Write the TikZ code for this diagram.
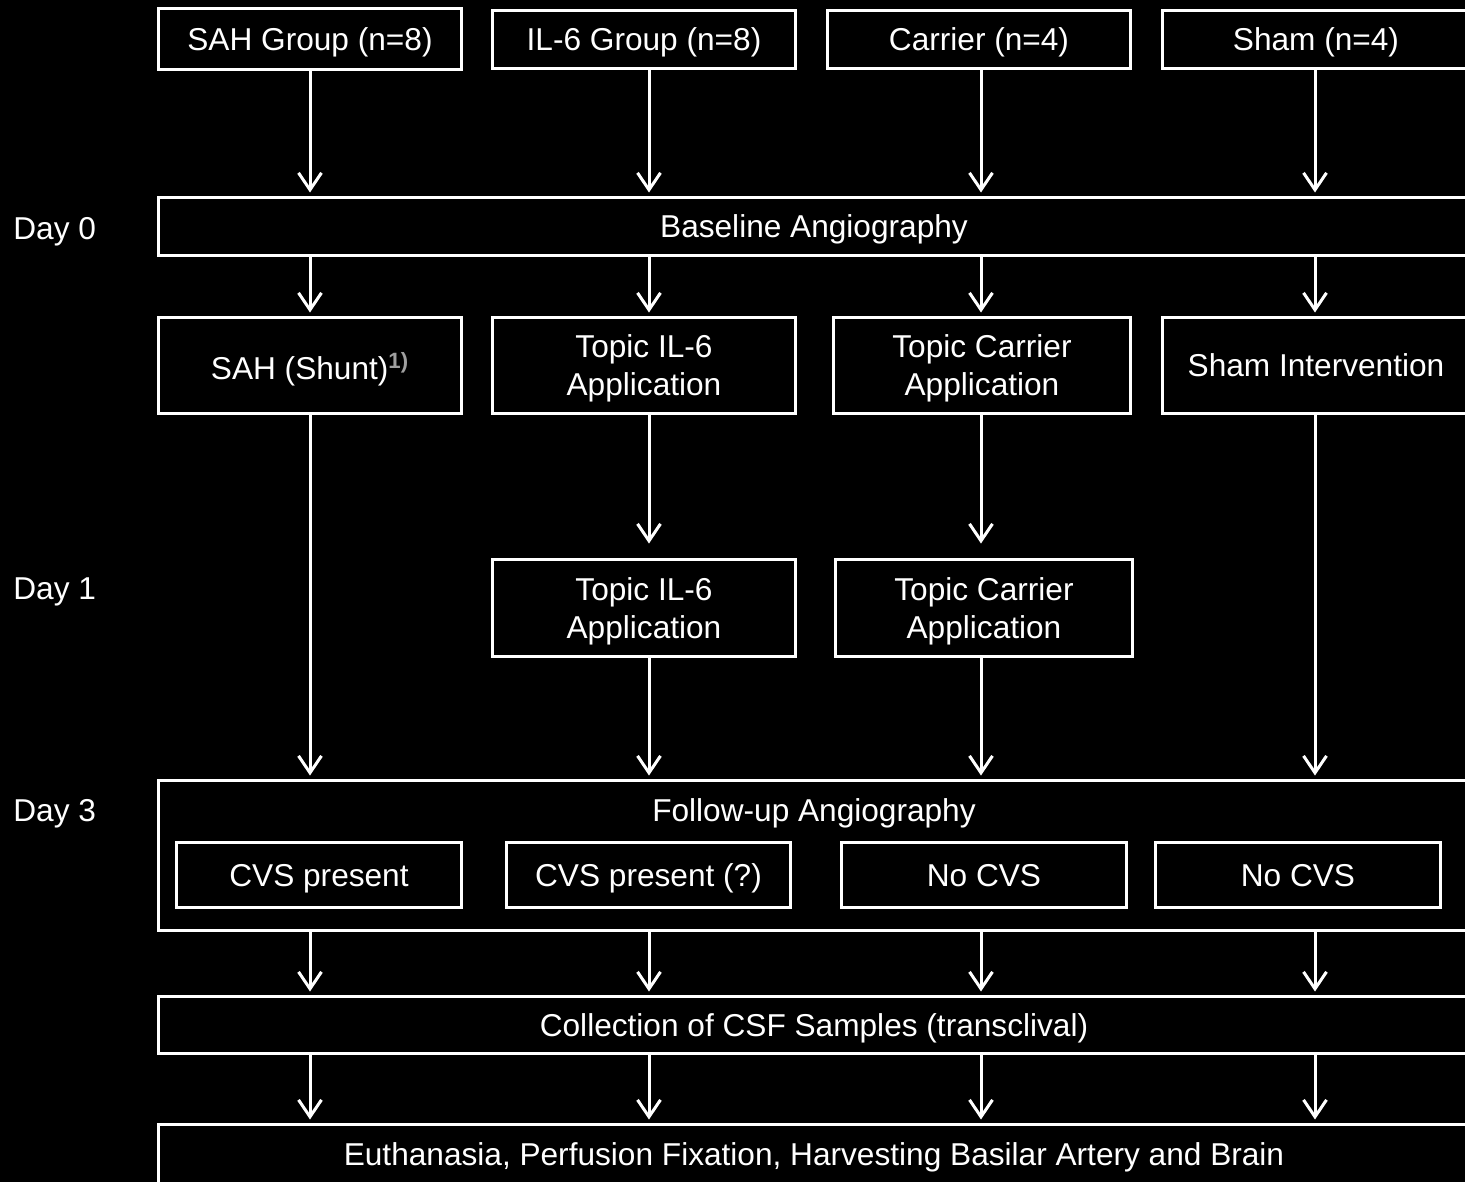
\documentclass[tikz,border=0pt]{standalone}
\usepackage{fontspec}
\setmainfont{Liberation Sans}
\usepackage{tikz}
\usetikzlibrary{arrows.meta, positioning}

\begin{document}
\begin{tikzpicture}[
  x=0.02cm, y=-0.02cm,
  font=\fontsize{18}{21.6}\selectfont,
  box/.style={draw=white, line width=0.06cm, text=white, align=center, inner sep=0pt, text depth=0pt},
  txt/.style={text=white, align=center, inner sep=0pt, text depth=0pt},
  day/.style={text=white, anchor=west, inner sep=0pt, text depth=0pt},
  arr/.style={-{Straight Barb[length=0.34cm,width=0.46cm]}, white, line width=0.06cm, shorten >=0.06cm}
]

% canvas
\clip (0,0) rectangle (1465,1182);
\fill[black] (0,0) rectangle (1465,1182);

% columns
\coordinate (c1) at (310,0);
\coordinate (c2) at (649,0);
\coordinate (c3) at (981,0);
\coordinate (c4) at (1315,0);

% groups
\node[box, minimum width=6.08cm, minimum height=1.22cm] (g1) at (310,39) {SAH Group (n=8)};
\node[box, minimum width=6.08cm, minimum height=1.18cm] (g2) at (644,39.5) {IL-6 Group (n=8)};
\node[box, minimum width=6.08cm, minimum height=1.18cm] (g3) at (979,39.5) {Carrier (n=4)};
\node[box, minimum width=6.16cm, minimum height=1.18cm] (g4) at (1316,39.5) {Sham (n=4)};

% day 0
\node[day] (day0) at (13,228) {Day 0};
\node[box, minimum width=26.24cm, minimum height=1.18cm] (base) at (814,226.5) {Baseline Angiography};

\node[box, minimum width=6.08cm, minimum height=1.94cm] (s1) at (310,365.5) {SAH (Shunt)\textsuperscript{\bfseries\color{gray!75}1)}};
\node[box, minimum width=6.08cm, minimum height=1.94cm] (s2) at (644,365.5) {Topic IL-6\\Application};
\node[box, minimum width=5.96cm, minimum height=1.94cm] (s3) at (982,365.5) {Topic Carrier\\Application};
\node[box, minimum width=6.16cm, minimum height=1.94cm] (s4) at (1316,365.5) {Sham Intervention};

% day 1
\node[day] (day1) at (13,589) {Day 1};
\node[box, minimum width=6.08cm, minimum height=1.96cm] (d1) at (644,608) {Topic IL-6\\Application};
\node[box, minimum width=5.96cm, minimum height=1.96cm] (d2) at (984,608) {Topic Carrier\\Application};

% day 3
\node[day] (day3) at (13,810) {Day 3};
\node[box, minimum width=26.24cm, minimum height=3.02cm] (fu) at (814,855.5) {};
\node[txt] (futitle) at (814,810) {Follow-up Angiography};
\node[box, minimum width=5.72cm, minimum height=1.32cm] (v1) at (319,875) {CVS present};
\node[box, minimum width=5.70cm, minimum height=1.32cm] (v2) at (648.5,875) {CVS present (?)};
\node[box, minimum width=5.72cm, minimum height=1.32cm] (v3) at (984,875) {No CVS};
\node[box, minimum width=5.72cm, minimum height=1.32cm] (v4) at (1298,875) {No CVS};

% end
\node[box, minimum width=26.24cm, minimum height=1.16cm] (csf) at (814,1025) {Collection of CSF Samples (transclival)};
\node[box, minimum width=26.24cm, minimum height=1.20cm] (eut) at (814,1154) {Euthanasia, Perfusion Fixation, Harvesting Basilar Artery and Brain};

% arrows
\draw[arr] (g1.south -| c1) -- (base.north -| c1);
\draw[arr] (g2.south -| c2) -- (base.north -| c2);
\draw[arr] (g3.south -| c3) -- (base.north -| c3);
\draw[arr] (g4.south -| c4) -- (base.north -| c4);

\draw[arr] (base.south -| c1) -- (s1.north -| c1);
\draw[arr] (base.south -| c2) -- (s2.north -| c2);
\draw[arr] (base.south -| c3) -- (s3.north -| c3);
\draw[arr] (base.south -| c4) -- (s4.north -| c4);

\draw[arr, shorten >=0.28cm] (s2.south -| c2) -- (d1.north -| c2);
\draw[arr, shorten >=0.28cm] (s3.south -| c3) -- (d2.north -| c3);

\draw[arr] (s1.south -| c1) -- (fu.north -| c1);
\draw[arr] (d1.south -| c2) -- (fu.north -| c2);
\draw[arr] (d2.south -| c3) -- (fu.north -| c3);
\draw[arr] (s4.south -| c4) -- (fu.north -| c4);

\draw[arr] (fu.south -| c1) -- (csf.north -| c1);
\draw[arr] (fu.south -| c2) -- (csf.north -| c2);
\draw[arr] (fu.south -| c3) -- (csf.north -| c3);
\draw[arr] (fu.south -| c4) -- (csf.north -| c4);

\draw[arr] (csf.south -| c1) -- (eut.north -| c1);
\draw[arr] (csf.south -| c2) -- (eut.north -| c2);
\draw[arr] (csf.south -| c3) -- (eut.north -| c3);
\draw[arr] (csf.south -| c4) -- (eut.north -| c4);

\end{tikzpicture}
\end{document}
